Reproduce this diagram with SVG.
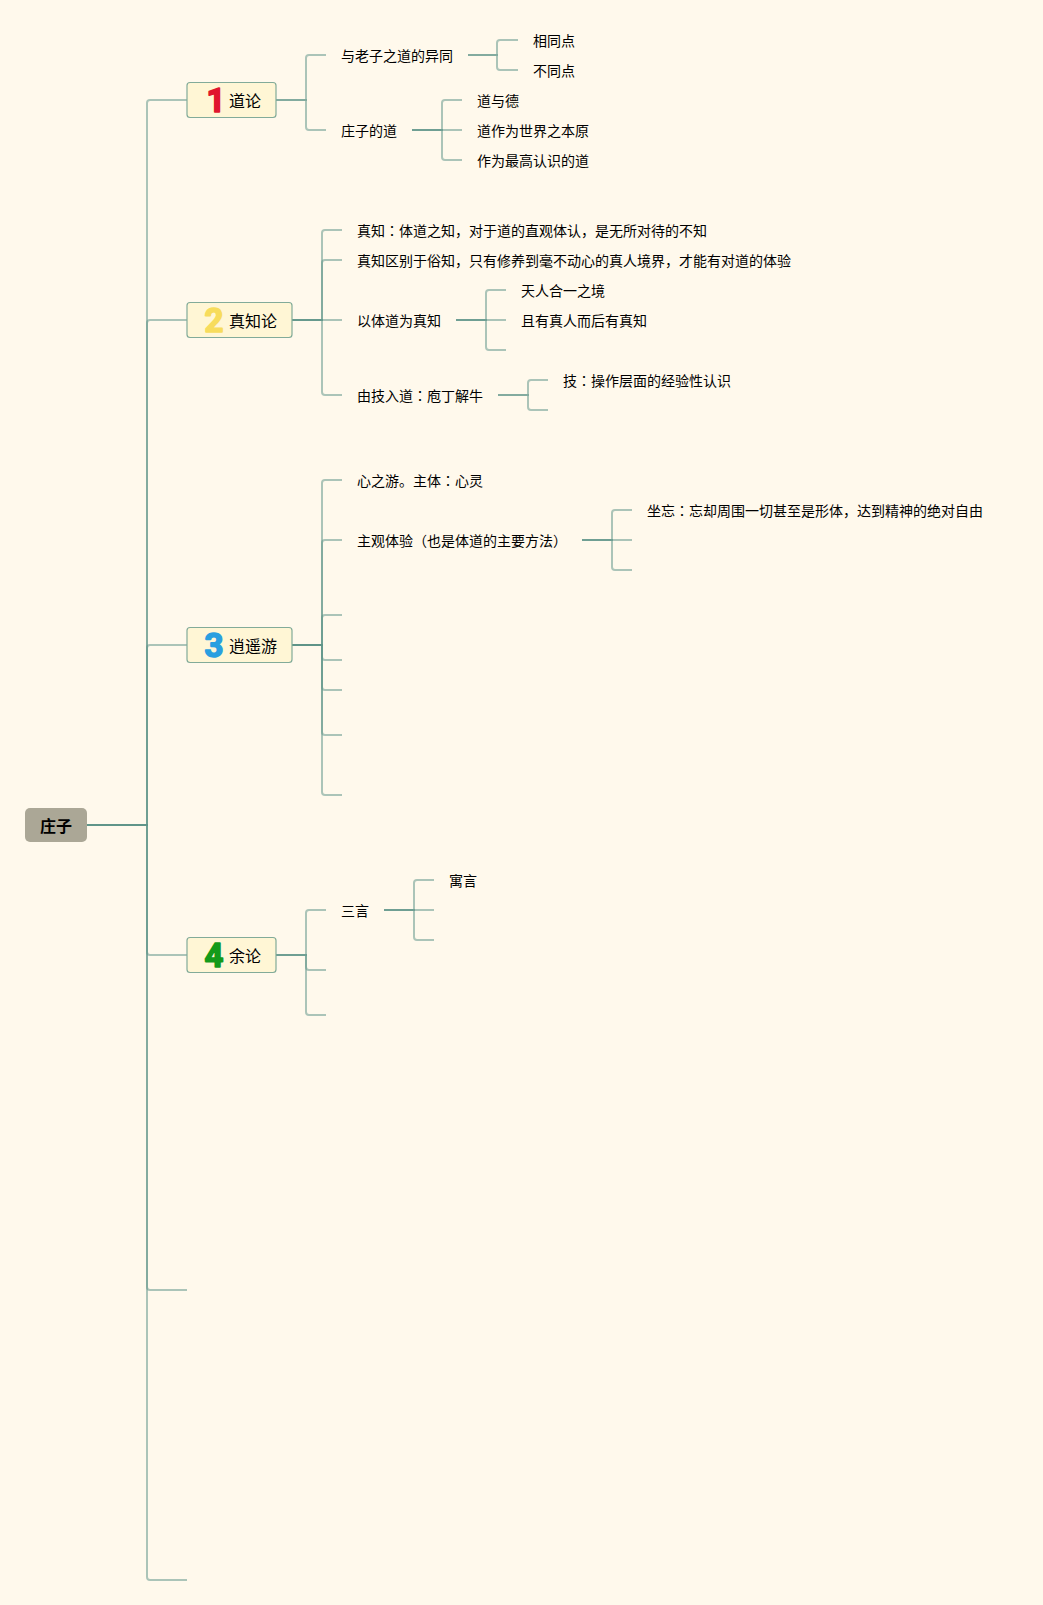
<svg xmlns="http://www.w3.org/2000/svg" width="1043" height="1605" viewBox="0 0 1043 1605">
<style>
.bg{fill:#fff9ec}
.c path{fill:none;stroke:#5d9488;stroke-opacity:.52;stroke-width:2}
text{font-family:"Noto Sans CJK SC","Noto Sans",sans-serif;fill:#000}
tspan{font-family:"Noto Sans CJK JP","Noto Sans",sans-serif}
.s{font-size:14px}
.m{font-size:16px}
.r{font-size:16px;font-weight:700;fill:#000}
.box{fill:#fff6d5;stroke:#82ab99;stroke-width:1.2}
.root{fill:#aba796}
.n{font-family:"Roboto","Liberation Sans",sans-serif;font-size:33px;font-weight:700;stroke-width:1.6;stroke-linejoin:round}
</style>
<rect class="bg" width="1043" height="1605"/>
<g id="connectors" class="c">
<path d="M87 825H147V103Q147 100 150 100H187"/>
<path d="M87 825H147V323Q147 320 150 320H187"/>
<path d="M87 825H147V648Q147 645 150 645H187"/>
<path d="M87 825H147V952Q147 955 150 955H187"/>
<path d="M87 825H147V1287Q147 1290 150 1290H187"/>
<path d="M87 825H147V1577Q147 1580 150 1580H187"/>
<path d="M276 100H306V58Q306 55 309 55H326"/>
<path d="M276 100H306V127Q306 130 309 130H326"/>
<path d="M468 55H497V43Q497 40 500 40H518"/>
<path d="M468 55H497V67Q497 70 500 70H518"/>
<path d="M412 130H442V103Q442 100 445 100H462"/>
<path d="M412 130H462"/>
<path d="M412 130H442V157Q442 160 445 160H462"/>
<path d="M292 320H322V233Q322 230 325 230H342"/>
<path d="M292 320H322V263Q322 260 325 260H342"/>
<path d="M292 320H342"/>
<path d="M292 320H322V392Q322 395 325 395H342"/>
<path d="M456 320H486V293Q486 290 489 290H506"/>
<path d="M456 320H506"/>
<path d="M456 320H486V347Q486 350 489 350H506"/>
<path d="M498 395H528V383Q528 380 531 380H548"/>
<path d="M498 395H528V407Q528 410 531 410H548"/>
<path d="M292 645H322V483Q322 480 325 480H342"/>
<path d="M292 645H322V543Q322 540 325 540H342"/>
<path d="M292 645H322V618Q322 615 325 615H342"/>
<path d="M292 645H322V657Q322 660 325 660H342"/>
<path d="M292 645H322V687Q322 690 325 690H342"/>
<path d="M292 645H322V732Q322 735 325 735H342"/>
<path d="M292 645H322V792Q322 795 325 795H342"/>
<path d="M582 540H612V513Q612 510 615 510H632"/>
<path d="M582 540H632"/>
<path d="M582 540H612V567Q612 570 615 570H632"/>
<path d="M276 955H306V913Q306 910 309 910H326"/>
<path d="M276 955H306V967Q306 970 309 970H326"/>
<path d="M276 955H306V1012Q306 1015 309 1015H326"/>
<path d="M384 910H414V883Q414 880 417 880H434"/>
<path d="M384 910H434"/>
<path d="M384 910H414V937Q414 940 417 940H434"/>
</g>
<g id="root"><rect class="root" x="25" y="808" width="62" height="34" rx="5"/><text class="r" x="40" y="832">庄子</text></g>
<g id="n1"><rect class="box" x="187" y="82.500" width="89" height="35" rx="3"/><text class="n" x="216" y="112" text-anchor="middle" stroke="#e0162e" style="fill:#e0162e">1</text><text class="m" x="229" y="107">道论</text></g>
<g id="n2"><rect class="box" x="187" y="302.500" width="105" height="35" rx="3"/><text class="n" x="214" y="332" text-anchor="middle" stroke="#f7dc5c" style="fill:#f7dc5c">2</text><text class="m" x="229" y="327">真知论</text></g>
<g id="n3"><rect class="box" x="187" y="627.500" width="105" height="35" rx="3"/><text class="n" x="214" y="657" text-anchor="middle" stroke="#2a9fe0" style="fill:#2a9fe0">3</text><text class="m" x="229" y="652">逍遥游</text></g>
<g id="n4"><rect class="box" x="187" y="937.500" width="89" height="35" rx="3"/><text class="n" x="214" y="967" text-anchor="middle" stroke="#149a1a" style="fill:#149a1a">4</text><text class="m" x="229" y="962">余论</text></g>
<g id="t1"><text class="s" x="341" y="61">与老子之道的异同</text></g>
<g id="t2"><text class="s" x="533" y="46">相同点</text></g>
<g id="t3"><text class="s" x="533" y="76">不同点</text></g>
<g id="t4"><text class="s" x="341" y="136">庄子的道</text></g>
<g id="t5"><text class="s" x="477" y="106">道与德</text></g>
<g id="t6"><text class="s" x="477" y="136">道作为世界之本原</text></g>
<g id="t7"><text class="s" x="477" y="166">作为最高认识的道</text></g>
<g id="t8"><text class="s" x="357" y="236">真知<tspan>：</tspan>体道之知，对于道的直观体认，是无所对待的不知</text></g>
<g id="t9"><text class="s" x="357" y="266">真知区别于俗知，只有修养到毫不动心的真人境界，才能有对道的体验</text></g>
<g id="t10"><text class="s" x="357" y="326">以体道为真知</text></g>
<g id="t11"><text class="s" x="521" y="296">天人合一之境</text></g>
<g id="t12"><text class="s" x="521" y="326">且有真人而后有真知</text></g>
<g id="t13"><text class="s" x="357" y="401">由技入道<tspan>：</tspan>庖丁解牛</text></g>
<g id="t14"><text class="s" x="563" y="386">技<tspan>：</tspan>操作层面的经验性认识</text></g>
<g id="t15"><text class="s" x="357" y="486">心之游。主体<tspan>：</tspan>心灵</text></g>
<g id="t16"><text class="s" x="357" y="546">主观体验（也是体道的主要方法）</text></g>
<g id="t17"><text class="s" x="647" y="516">坐忘<tspan>：</tspan>忘却周围一切甚至是形体，达到精神的绝对自由</text></g>
<g id="t18"><text class="s" x="341" y="916">三言</text></g>
<g id="t19"><text class="s" x="449" y="886">寓言</text></g>
</svg>
